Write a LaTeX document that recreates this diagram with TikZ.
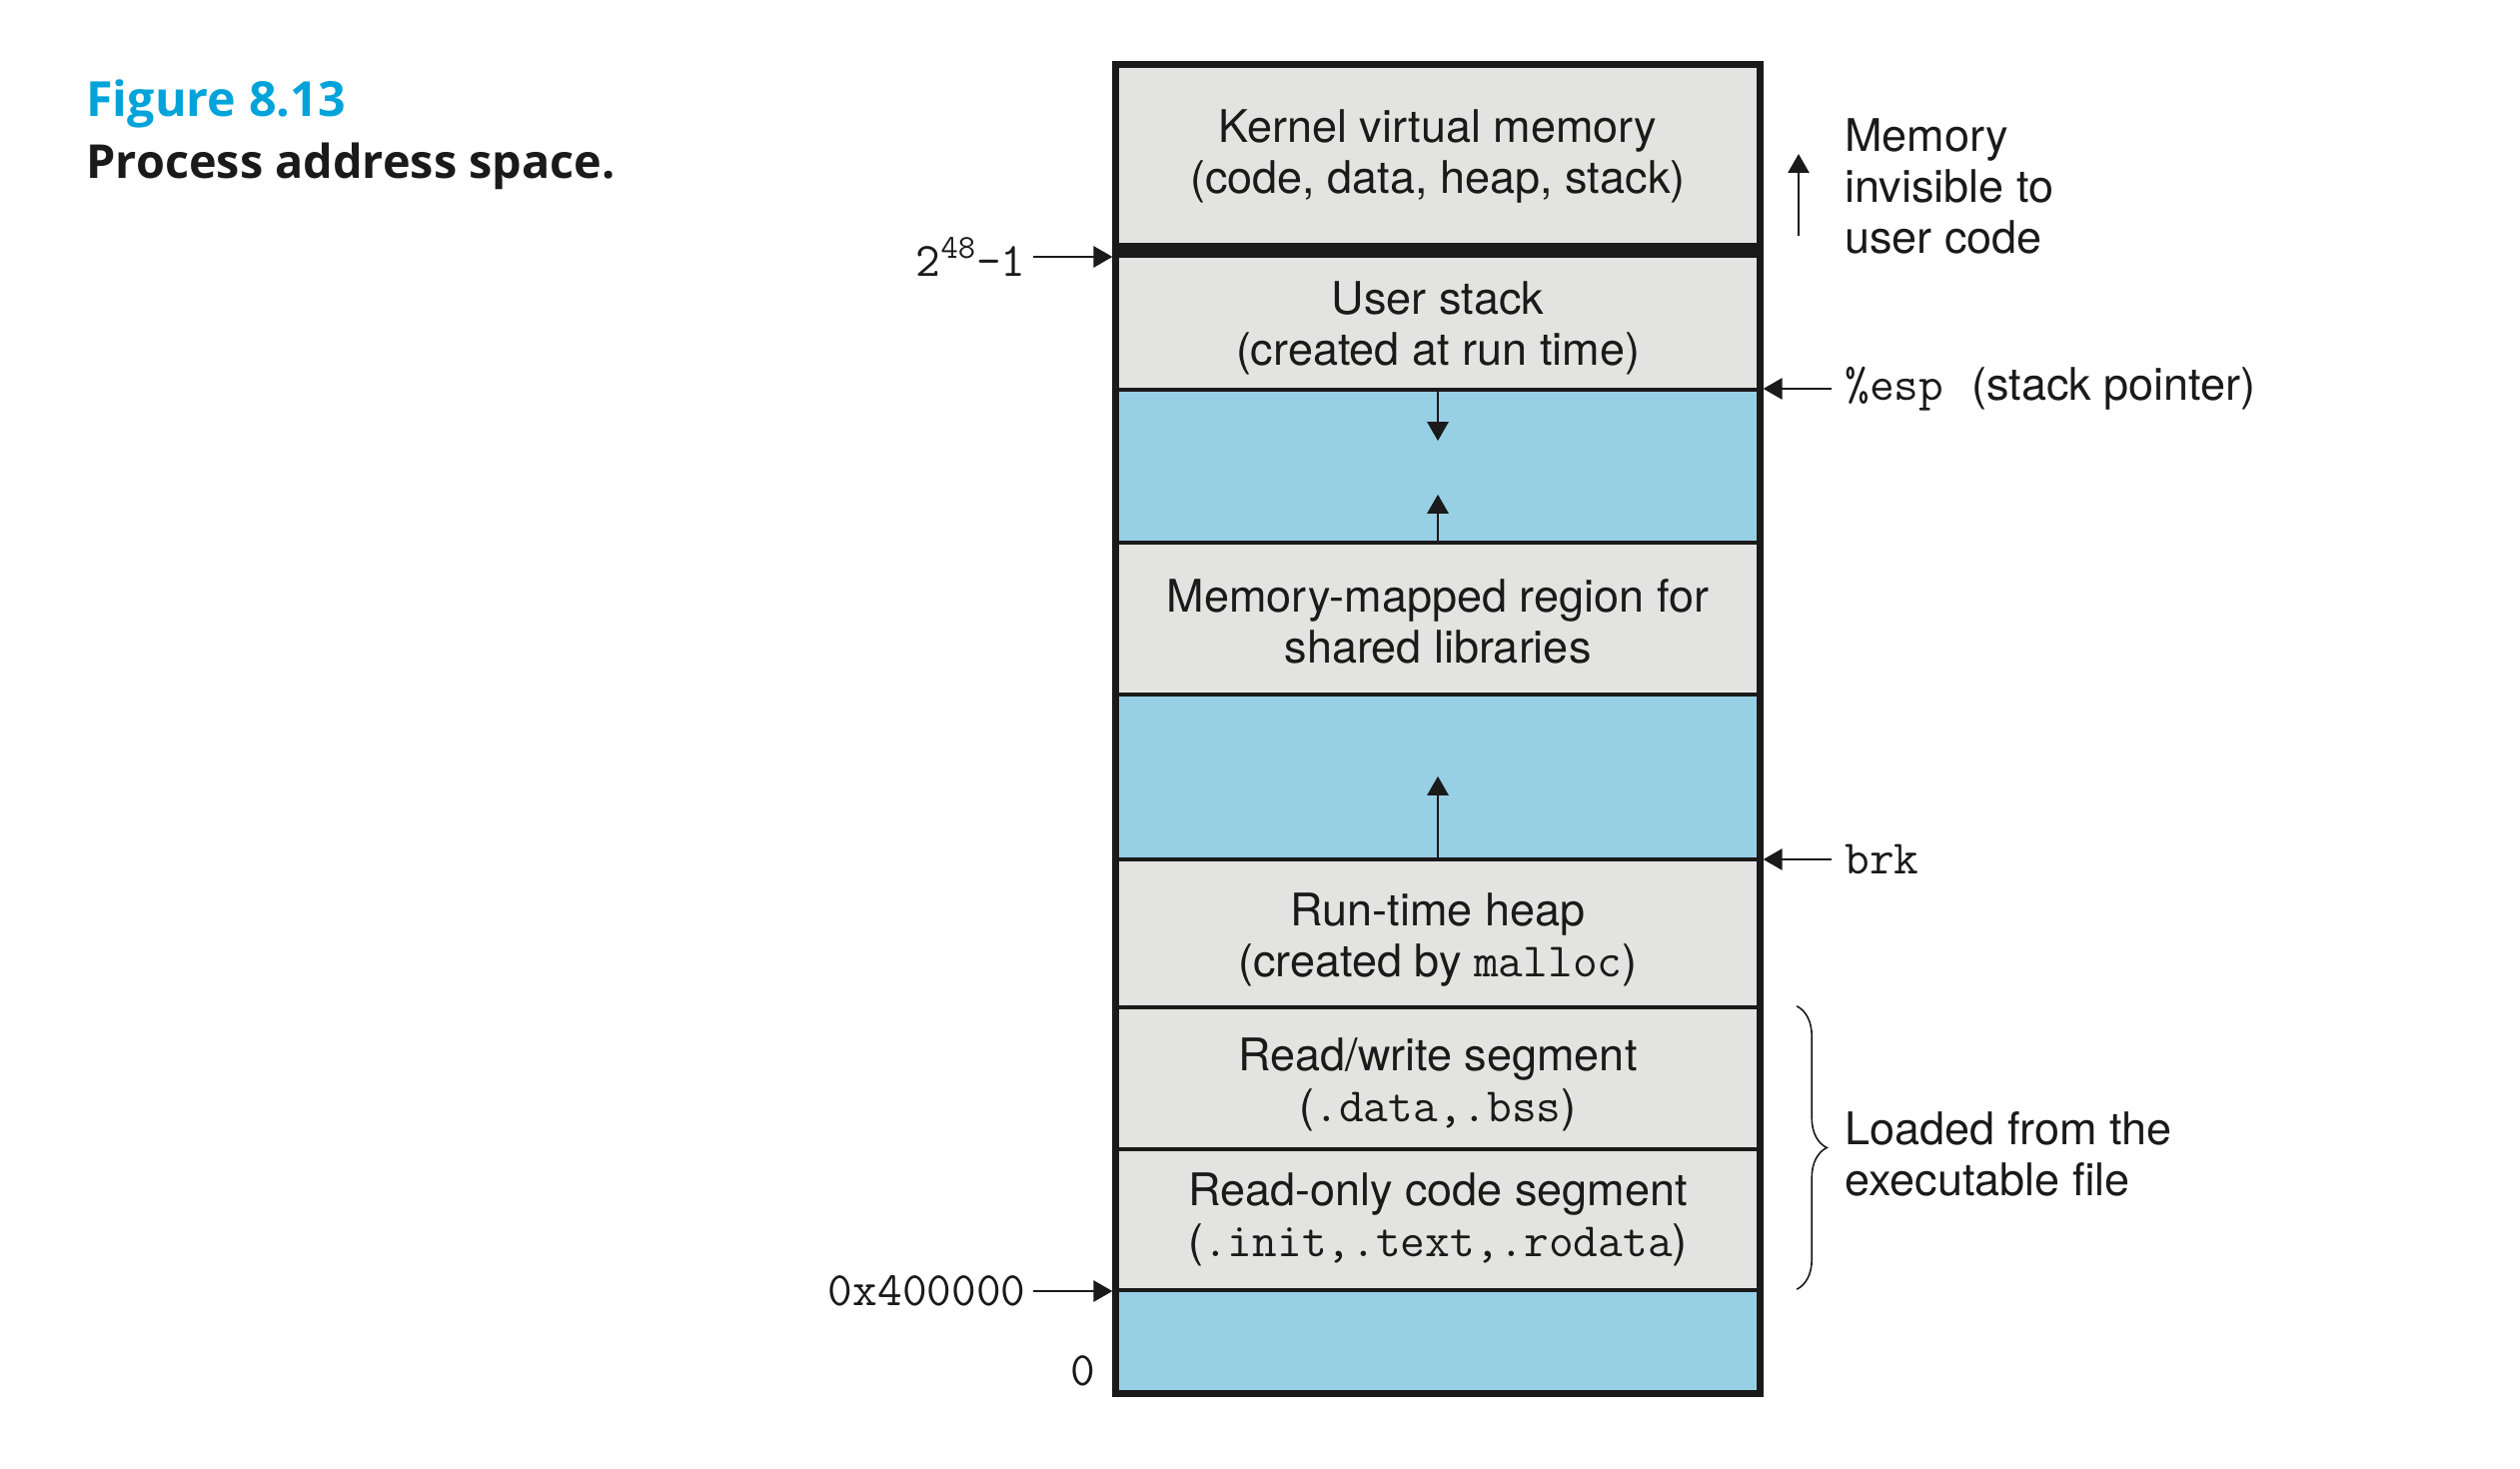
\documentclass[tikz,border=0pt]{standalone}
\usepackage{fontspec}
\setmainfont{TeX Gyre Heros}
\newfontfamily\capfont{Open Sans}
\usetikzlibrary{arrows.meta,calc,decorations.pathreplacing}
\definecolor{FigCyan}{RGB}{0,163,218}
\definecolor{SegGray}{RGB}{227,227,226}
\definecolor{GapBlue}{RGB}{151,207,229}
\definecolor{InkBlack}{RGB}{26,26,26}
\newcommand\bodyfont{\fontsize{22.5}{25.5}\selectfont}
\newcommand\mono[1]{{\fontsize{24}{25.5}\selectfont\ttfamily #1}}

\begin{document}
\begin{tikzpicture}[x=0.5pt,y=-0.5pt,
    seg/.style={draw=InkBlack,line width=2.2pt,fill=SegGray,minimum width=321pt,inner sep=0pt},
    gap/.style={seg,fill=GapBlue},
    segtext/.style={inner sep=0pt,align=center,font=\bodyfont,text=InkBlack},
    lbl/.style={inner sep=0pt,inner xsep=6.5pt,font=\bodyfont,text=InkBlack},
    arr/.style={draw=InkBlack,line width=1.4pt,shorten >=1.2pt,
      -{Triangle[length=9.5pt,width=10.5pt]}}]
  \useasboundingbox (0,0) rectangle (2522,1470);
  % caption
  \node[anchor=base west,inner sep=0pt,text=FigCyan,
    font=\capfont\bfseries\fontsize{24.2}{28}\selectfont] (fignum) at (86,117) {Figure 8.13};
  \node[anchor=base west,inner sep=0pt,text=InkBlack,
    font=\capfont\bfseries\fontsize{23.4}{27}\selectfont] (figtitle) at (86,179) {Process address space.};

  % address space, top to bottom
  \node[seg,minimum height=91pt,
    label={[segtext]center:{Kernel virtual memory\\(code, data, heap, stack)}}] (kernel) at (1439,157) {};
  \node[seg,minimum height=71pt,
    label={[segtext,yshift=-4.5pt]center:{User stack\\(created at run time)}}] (ustack) at (1439,319) {};
  \node[gap,minimum height=76.5pt] (gapA) at (1439,466.5) {};
  \node[seg,minimum height=76pt,
    label={[segtext,yshift=-1.5pt]center:{Memory-mapped region for\\shared libraries}}] (mmap) at (1439,619) {};
  \node[gap,minimum height=82.5pt] (gapB) at (1439,777.5) {};
  \node[seg,minimum height=74pt,
    label={[segtext,yshift=-3pt]center:{Run-time heap\\(created by \mono{malloc})}}] (heap) at (1439,934) {};
  \node[seg,minimum height=71pt,
    label={[segtext,yshift=-3pt]center:{Read/write segment\\(\mono{.data,.bss})}}] (rwseg) at (1439,1079) {};
  \node[seg,minimum height=70.5pt,
    label={[segtext]center:{Read-only code segment\\(\mono{.init,.text,.rodata})}}] (roseg) at (1439,1220.5) {};
  \node[gap,minimum height=51pt] (unused) at (1439,1342) {};
  \draw[InkBlack,line width=2.6pt] (kernel.north west) rectangle (unused.south east);
  \draw[InkBlack,line width=7.5pt] (kernel.south west) -- (kernel.south east);

  % growth arrows
  \draw[arr,shorten >=0pt] (ustack.south) -- ++(0,49);
  \draw[arr,shorten >=0pt] (mmap.north) -- ++(0,-46);
  \draw[arr,shorten >=0pt] (heap.north) -- ++(0,-81);

  % addresses on the left
  \node[lbl,inner xsep=3.5pt,anchor=east] (usertop) at (1034,257) {\mono{2\textsuperscript{48}-1}};
  \node[lbl,inner xsep=3.5pt,anchor=east] (textstart) at (1034,1292) {\mono{0x400000}};
  \node[lbl,inner xsep=0pt] (zero) at (1084,1372) {\mono{0}};
  \draw[arr] (usertop.east) -- (usertop.east -| kernel.west);
  \draw[arr] (textstart.east) -- (textstart.east -| roseg.west);

  % notes on the right
  \coordinate (hidebase) at (1800,236);
  \draw[arr,shorten >=0pt] (hidebase) -- ++(0,-82);
  \node[lbl,anchor=west,align=left] (hidden) at (1833,186) {Memory\\invisible to\\user code};
  \node[lbl,anchor=west] (esp) at (1833,389) {\mono{\%esp}\hspace{14pt}(stack pointer)};
  \node[lbl,anchor=west] (brk) at (1833,860) {\mono{brk}};
  \draw[arr] (esp.west) -- (esp.west -| ustack.east);
  \draw[arr] (brk.west) -- (brk.west -| heap.east);
  \draw[InkBlack,line width=0.8pt,decorate,decoration={brace,amplitude=15pt}]
    ([xshift=18pt,yshift=-0.5pt]rwseg.north east) -- ([xshift=18pt,yshift=1.5pt]roseg.south east);
  \node[lbl,anchor=west,align=left] (loaded) at (1833,1155) {Loaded from the\\executable file};
\end{tikzpicture}
\end{document}
